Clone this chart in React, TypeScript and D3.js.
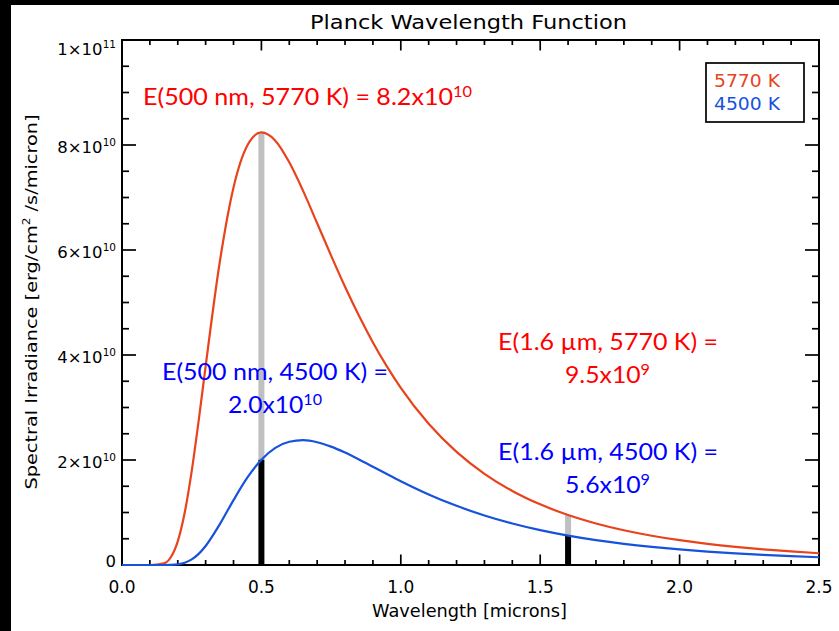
import React from 'react';
import * as d3 from 'd3';

// Wavelength samples (microns) and spectral irradiance (erg/cm^2/s/micron)
const wavelengths = [0, 0.05, 0.1, 0.15, 0.175, 0.2, 0.225, 0.25, 0.275, 0.3, 0.35, 0.4, 0.45, 0.5, 0.55, 0.6, 0.65, 0.7, 0.75, 0.8, 0.85, 0.9, 0.95, 1.0, 1.1, 1.2, 1.3, 1.4, 1.5, 1.6, 1.7, 1.8, 1.9, 2.0, 2.1, 2.2, 2.3, 2.4, 2.5];
const irradiance5770 = [0, 0, 5.5e5, 2.98e8, 1.48e9, 4.51e9, 9.99e9, 1.787e10, 2.748e10, 3.787e10, 5.748e10, 7.192e10, 7.994e10, 8.239e10, 8.083e10, 7.671e10, 7.121e10, 6.51e10, 5.893e10, 5.299e10, 4.746e10, 4.239e10, 3.783e10, 3.374e10, 2.69e10, 2.155e10, 1.737e10, 1.411e10, 1.155e10, 9.525e9, 7.912e9, 6.619e9, 5.574e9, 4.723e9, 4.026e9, 3.452e9, 2.975e9, 2.577e9, 2.242e9];
const irradiance4500 = [0, 0, 0, 2.7e6, 2.65e7, 1.336e8, 4.38e8, 1.071e9, 2.127e9, 3.627e9, 7.693e9, 1.236e10, 1.668e10, 2.006e10, 2.231e10, 2.348e10, 2.377e10, 2.339e10, 2.255e10, 2.141e10, 2.01e10, 1.872e10, 1.733e10, 1.597e10, 1.345e10, 1.127e10, 9.432e9, 7.905e9, 6.643e9, 5.604e9, 4.747e9, 4.04e9, 3.455e9, 2.967e9, 2.56e9, 2.219e9, 1.931e9, 1.687e9, 1.48e9];
const seriesLabels = ['5770 K', '4500 K'];

const xTickValues = [0, 0.5, 1.0, 1.5, 2.0, 2.5];
const xTickLabels = ['0.0', '0.5', '1.0', '1.5', '2.0', '2.5'];
const yTickValues = [0, 2e10, 4e10, 6e10, 8e10, 1e11];
const yTickMantissas = ['0', '2×10', '4×10', '6×10', '8×10', '1×10'];
const yTickExponents = ['', '10', '10', '10', '10', '11'];

const markerWavelengths = [0.5, 1.6];
const marker5770 = [8.239e10, 9.525e9];
const marker4500 = [2.006e10, 5.604e9];

const annotationMain = ['E(500 nm, 5770 K) = 8.2x10', 'E(500 nm, 4500 K) =', '2.0x10', 'E(1.6 µm, 5770 K) =', '9.5x10', 'E(1.6 µm, 4500 K) =', '5.6x10'];
const annotationSup = ['10', '', '10', '', '9', '', '9'];

const TITLE = 'Planck Wavelength Function';
const X_LABEL = 'Wavelength [microns]';

const W = 839;
const H = 631;
const PL = 122, PR = 819, PT = 40, PB = 565;
const RED = '#e8431c';
const BLUE = '#1652dc';
const ANN_RED = '#ff0000';
const ANN_BLUE = '#0000ff';
const AXIS_FONT = 'DejaVu Sans, sans-serif';
const ANN_FONT = 'Lato, sans-serif';

// layout for each annotation line: x start, baseline, width, colour
const annLayout = [
  { x: 143, y: 105, w: 329, c: ANN_RED },
  { x: 162, y: 380, w: 226, c: ANN_BLUE },
  { x: 228, y: 413, w: 94, c: ANN_BLUE },
  { x: 498, y: 350, w: 220, c: ANN_RED },
  { x: 565, y: 383, w: 85, c: ANN_RED },
  { x: 498, y: 460, w: 220, c: ANN_BLUE },
  { x: 565, y: 493, w: 85, c: ANN_BLUE },
];

export default function App() {
  const x = d3.scaleLinear().domain([0, 2.5]).range([PL, PR]);
  const y = d3.scaleLinear().domain([0, 1e11]).range([PB, PT]);

  const line = d3
    .line<number>()
    .x((_, i) => x(wavelengths[i]))
    .y((d) => y(d))
    .curve(d3.curveMonotoneX);

  const xMinor = d3.range(0, 26).map((i) => i / 10);
  const yMinor = d3.range(0, 21).map((i) => i * 0.5e10);
  const isMajorX = (v: number) => Math.abs(v * 2 - Math.round(v * 2)) < 1e-6;
  const isMajorY = (v: number) => Math.abs(v / 2e10 - Math.round(v / 2e10)) < 1e-6;

  const ticks: JSX.Element[] = [];
  xMinor.forEach((v, i) => {
    const len = isMajorX(v) ? 10.5 : 5;
    const px = x(v);
    ticks.push(<line key={'xb' + i} x1={px} x2={px} y1={PB} y2={PB - len} stroke="#000" strokeWidth={1.7} />);
    ticks.push(<line key={'xt' + i} x1={px} x2={px} y1={PT} y2={PT + len} stroke="#000" strokeWidth={1.7} />);
  });
  yMinor.forEach((v, i) => {
    const len = isMajorY(v) ? 14 : 7;
    const py = y(v);
    ticks.push(<line key={'yl' + i} x1={PL} x2={PL + len} y1={py} y2={py} stroke="#000" strokeWidth={1.7} />);
    ticks.push(<line key={'yr' + i} x1={PR} x2={PR - len} y1={py} y2={py} stroke="#000" strokeWidth={1.7} />);
  });

  return (
    <svg width={W} height={H} viewBox={`0 0 ${W} ${H}`} style={{ position: 'absolute', left: 0, top: 0, background: '#fff' }}>
      <rect x={0} y={0} width={W} height={H} fill="#fff" />
      <rect x={0} y={0} width={W} height={5} fill="#000" />
      <rect x={0} y={0} width={11} height={H} fill="#000" />

      {/* marker bars */}
      {markerWavelengths.map((wl, i) => (
        <g key={'bar' + i}>
          <rect x={x(wl) - 3} y={y(marker5770[i])} width={6} height={y(marker4500[i]) - y(marker5770[i])} fill="#c0c0c0" />
          <rect x={x(wl) - 3} y={y(marker4500[i])} width={6} height={y(0) - y(marker4500[i])} fill="#000" />
        </g>
      ))}

      {/* frame and ticks */}
      <rect x={PL} y={PT} width={PR - PL} height={PB - PT} fill="none" stroke="#000" strokeWidth={2} />
      {ticks}

      {/* curves */}
      <path d={line(irradiance5770) || ''} fill="none" stroke={RED} strokeWidth={2.2} />
      <path d={line(irradiance4500) || ''} fill="none" stroke={BLUE} strokeWidth={2.2} />

      {/* x tick labels */}
      {xTickValues.map((v, i) => (
        <text key={'xl' + i} x={x(v)} y={593} textAnchor="middle" fontFamily={AXIS_FONT} fontSize={17} fill="#000">
          {xTickLabels[i]}
        </text>
      ))}
      {/* y tick labels */}
      {yTickValues.map((v, i) => {
        const base = Math.min(Math.max(y(v) + 7.5, PT + 15), PB + 2);
        return (
          <text key={'yl' + i} x={116} y={base} textAnchor="end" fontFamily={AXIS_FONT} fontSize={16.5} fill="#000">
            {yTickMantissas[i]}
            {yTickExponents[i] ? (
              <tspan fontSize={10.5} dy={-7}>{yTickExponents[i]}</tspan>
            ) : null}
          </text>
        );
      })}

      {/* title and axis labels */}
      <text x={310} y={29} fontFamily={AXIS_FONT} fontSize={19} textLength={317} lengthAdjust="spacingAndGlyphs" fill="#000">
        {TITLE}
      </text>
      <text x={372} y={617} fontFamily={AXIS_FONT} fontSize={17} textLength={195} lengthAdjust="spacingAndGlyphs" fill="#000">
        {X_LABEL}
      </text>
      <text transform="translate(37,302) rotate(-90)" textAnchor="middle" fontFamily={AXIS_FONT} fontSize={16} textLength={375} lengthAdjust="spacingAndGlyphs" fill="#000">
        Spectral Irradiance [erg/cm<tspan fontSize={10} dy={-7}>2</tspan><tspan dy={7}> /s/micron]</tspan>
      </text>

      {/* legend */}
      <rect x={706} y={63} width={98} height={59} fill="#fff" stroke="#000" strokeWidth={1.7} />
      <text x={714} y={87} fontFamily={AXIS_FONT} fontSize={18} textLength={66} lengthAdjust="spacingAndGlyphs" fill={RED}>
        {seriesLabels[0]}
      </text>
      <text x={714} y={110} fontFamily={AXIS_FONT} fontSize={18} textLength={66} lengthAdjust="spacingAndGlyphs" fill={BLUE}>
        {seriesLabels[1]}
      </text>

      {/* annotations */}
      {annotationMain.map((t, i) => {
        const L = annLayout[i];
        return (
          <text key={'an' + i} x={L.x} y={L.y} fontFamily={ANN_FONT} fontSize={23} textLength={L.w} lengthAdjust="spacingAndGlyphs" fill={L.c}>
            {t}
            {annotationSup[i] ? <tspan fontSize={15} dy={-8}>{annotationSup[i]}</tspan> : null}
          </text>
        );
      })}
    </svg>
  );
}
